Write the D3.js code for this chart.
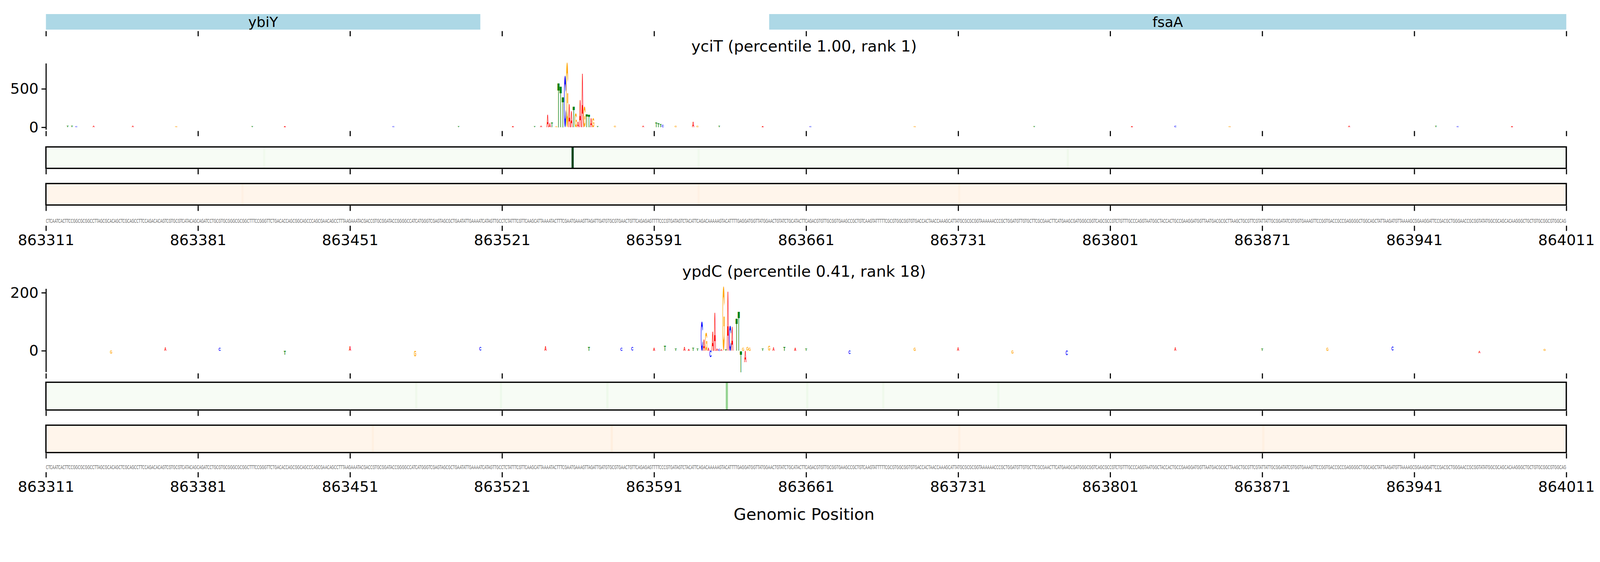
<!DOCTYPE html>
<html>
<head>
<meta charset="utf-8">
<script src="https://cdn.jsdelivr.net/npm/d3@7"></script>
<style>
  html, body { margin: 0; padding: 0; background: #fff; overflow: hidden; }
  svg { display: block; width: 100vw; height: calc(100vw / 3); }
  text { font-family: "DejaVu Sans", sans-serif; }
</style>
</head>
<body>
<svg id="chart" viewBox="0 0 4320 1440"></svg>
<script>
// data
var startPos = 863311
var endPos = 864011
var tickPositions = [863311, 863381, 863451, 863521, 863591, 863661, 863731, 863801, 863871, 863941, 864011]

var genes = [
  { name: 'ybiY', start: 863311, end: 863511 },
  { name: 'fsaA', start: 863644, end: 864011 }
]

var sequence = 'CTCAATCACTTCCGGCGCGGCCTTAGCGCACAGCTCGCAGCCTTCCAGACACAGTCGTGCGTCATACAGCAGATCCTGCGTGCGGGCGCGGCTTTCCGGGTTCTGACACCAGCGGCAGCCCAGCGAACAGCCTTTAAGAAATACGACCGTGCGGATACCGGGGCCATCATGGGTCGAGTAGCGCTGAATATTGAAAATCATAGTTGCCTCTATTTC' +
  'GTTCAAGCATTAAAATACTTTCGAATGAAAGTTAGATTGATGTGCGTGAACTGTTCAGAGAGTTTTCCCGTGATAGTCTACATTCAGACAAAAAGTACATTTTGAGGATGGTTATGGAACTGTATCTGCATACTTCAGACGTGTTGCGGTGAAGCCGCTGTCAAGTATTTTTCGCGTGGCGGTGTGACCACTAACCAAAGCATTATGCGCGCGGTAAAAAACCCGCTGGATGTTGTG' +
  'CTTCGCGAACTTCATGAAGCGATGGGCGGTCAGCGCCGTCTGTTTGCCCAGGTAATGGCTACCACTGCCGAAGGATGGTTAATGACGCGCTTAAGCTGCGTTCGTATTATTGCGGATATCGTGGTGAAAGTTCCGGTGACCGCCGAGGGGCTGGCAGCTATTAAGATGTTAAAAGCGGAAGGATTCCGACGCTGGGAACCGCGGTATATGGCGCAGCACAAGGGCTGCTGTGCGGCGTGGCAG'

// panel 1: yciT, offsets from startPos, base, attribution
var logo1Offset = [10, 12, 14, 22, 40, 60, 95, 110, 160, 190, 215, 225, 228, 231, 232, 233, 235, 236, 237, 238, 239, 240, 241, 242, 243, 244, 245, 246, 247, 248, 249, 250, 251, 252, 254, 262, 275, 281, 282, 283, 284, 290, 298, 300, 310, 330, 352, 400, 455, 500, 520, 545, 600, 640, 650, 675]
var logo1Base   = ['T', 'T', 'C', 'A', 'A', 'G', 'T', 'A', 'C', 'T', 'A', 'T', 'A', 'A', 'A', 'T', 'G', 'T', 'T', 'T', 'C', 'G', 'A', 'A', 'T', 'G', 'A', 'A', 'A', 'G', 'T', 'T', 'A', 'G', 'T', 'G', 'A', 'T', 'T', 'T', 'C', 'G', 'A', 'G', 'T', 'A', 'C', 'G', 'T', 'A', 'C', 'G', 'A', 'T', 'C', 'A']
var logo1Value  = [22, 18, 14, 16, 18, 12, 10, 12, 10, 14, 12, 10, 20, 165, 53, 58, 12, 582, 534, 397, 670, 843, 304, 213, 269, 181, 69, 353, 705, 264, 173, 162, 117, 117, 12, 16, 20, 58, 55, 40, 35, 18, 69, 22, 16, 14, 12, 10, 14, 12, 18, 10, 22, 16, 12, 10]

// panel 2: ypdC
var logo2Offset = [30, 55, 80, 110, 140, 170, 200, 230, 250, 265, 270, 280, 285, 290, 294, 296, 298, 300, 302, 303, 304, 305, 306, 307, 308, 309, 310, 311, 312, 313, 314, 315, 316, 318, 319, 320, 321, 322, 323, 324, 330, 333, 335, 340, 345, 350, 370, 400, 420, 445, 470, 520, 560, 590, 620, 660, 690]
var logo2Base   = ['G', 'A', 'C', 'T', 'A', 'G', 'C', 'A', 'T', 'C', 'C', 'A', 'T', 'T', 'A', 'A', 'T', 'T', 'C', 'A', 'G', 'A', 'C', 'A', 'A', 'A', 'C', 'A', 'G', 'T', 'A', 'C', 'A', 'T', 'T', 'T', 'G', 'A', 'G', 'G', 'T', 'G', 'A', 'T', 'A', 'T', 'C', 'G', 'A', 'G', 'C', 'A', 'T', 'G', 'C', 'A', 'G']
var logo2Value  = [-10, 12, 10, -14, 15, -20, 12, 16, 14, 10, 12, 10, 18, 8, 14, 6, 10, 8, 101, 40, 62, 11, -23, 66, 133, 8, 6, 5, 221, 5, 206, 87, 84, 112, 136, -74, 10, -40, 12, 10, 8, 16, 12, 13, 10, 8, -12, 10, 12, -10, -15, 12, 8, 10, 14, -8, 6]

// heatmap rows (only cells that stand out from the pale base)
var green1Offset = [242, 100, 300, 470]
var green1Value  = [1.0, 0.04, 0.04, 0.05]
var orange1Offset = [90, 300, 420]
var orange1Value  = [0.03, 0.03, 0.03]
var green2Offset = [313, 170, 209, 258, 350, 385, 438]
var green2Value  = [0.41, 0.05, 0.06, 0.06, 0.06, 0.05, 0.06]
var orange2Offset = [150, 260, 420, 560]
var orange2Value  = [0.04, 0.05, 0.04, 0.04]

var baseColor = { A: '#ff0000', C: '#0000ff', G: '#ffa500', T: '#008000' }

var svg = d3.select('#chart')
var x = d3.scaleLinear().domain([startPos, endPos]).range([124, 4229])
var bw = x(startPos + 1) - x(startPos)

function xTicks (y, withLabels) {
  var axis = d3.axisBottom(x).tickValues(tickPositions).tickSize(14).tickPadding(10)
    .tickFormat(withLabels ? d3.format('d') : '')
  var g = svg.append('g').attr('transform', 'translate(0,' + y + ')').call(axis)
  g.select('.domain').remove()
  g.selectAll('line').attr('stroke-width', 3)
  g.selectAll('text').attr('font-size', 40).attr('fill', '#000')
}

// gene track
svg.selectAll('rect.gene').data(genes).enter().append('rect')
  .attr('x', function (d) { return x(d.start) })
  .attr('width', function (d) { return x(d.end) - x(d.start) })
  .attr('y', 38).attr('height', 42).attr('fill', '#add8e6')
svg.selectAll('text.gene').data(genes).enter().append('text')
  .attr('x', function (d) { return (x(d.start) + x(d.end)) / 2 })
  .attr('y', 73).attr('text-anchor', 'middle').attr('font-size', 38)
  .text(function (d) { return d.name })
xTicks(84, false)

// ink bounds of the logo glyphs
var ctx = document.createElement('canvas').getContext('2d')
ctx.font = 'bold 100px "Liberation Sans", sans-serif'
var glyph = {}
;['A', 'C', 'G', 'T'].forEach(function (b) {
  var m = ctx.measureText(b)
  glyph[b] = {
    left: m.actualBoundingBoxLeft,
    width: m.actualBoundingBoxLeft + m.actualBoundingBoxRight,
    ascent: m.actualBoundingBoxAscent,
    height: m.actualBoundingBoxAscent + m.actualBoundingBoxDescent
  }
})

function drawPanel (opt) {
  var y = d3.scaleLinear().domain(opt.domain).range([opt.bottom, opt.top])
  svg.append('text').attr('x', 2171).attr('y', opt.top - 32).attr('text-anchor', 'middle')
    .attr('font-size', 42).text(opt.title)

  var data = opt.offset.map(function (o, i) {
    return { pos: startPos + o, base: opt.base[i], v: opt.value[i] }
  })
  var g = svg.append('g')
  g.selectAll('text').data(data).enter().append('text')
    .attr('font-size', 100).attr('font-weight', 'bold')
    .style('font-family', '"Liberation Sans", sans-serif')
    .attr('fill', function (d) { return baseColor[d.base] })
    .text(function (d) { return d.base })
    .attr('transform', function (d) {
      var b = glyph[d.base]
      var h = Math.abs(y(d.v) - y(0))
      var sx = (bw * 0.95) / b.width
      var sy = h / b.height
      var top = d.v >= 0 ? y(d.v) : y(0)
      return 'translate(' + (x(d.pos) - bw * 0.475) + ',' + top + ') scale(' + sx + ',' + sy + ') translate(' + b.left + ',' + b.ascent + ')'
    })

  var ya = svg.append('g').attr('transform', 'translate(124,0)')
    .call(d3.axisLeft(y).tickValues(opt.yTicks).tickSize(12).tickPadding(8).tickSizeOuter(0))
  ya.select('.domain').attr('stroke-width', 3)
  ya.selectAll('line').attr('stroke-width', 3)
  ya.selectAll('text').attr('font-size', 40).attr('fill', '#000')
  xTicks(opt.bottom + 4, false)

  heatRow(opt.greenTop, opt.greenOffset, opt.greenValue, d3.interpolateGreens)
  heatRow(opt.orangeTop, opt.orangeOffset, opt.orangeValue, d3.interpolateOranges)

  // sequence squeezed into the axis width
  var seq = svg.append('text').attr('font-size', 15).attr('fill', '#666').text(sequence)
  var natural = seq.node().getComputedTextLength()
  seq.attr('transform', 'translate(' + x(startPos) + ',' + opt.seqY + ') scale(' + ((x(endPos) - x(startPos)) / natural) + ',1)')
  xTicks(opt.seqY + 8, true)
}

function heatRow (top, offs, vals, interp) {
  var h = top.h
  svg.append('rect').attr('x', x(startPos)).attr('y', top.y)
    .attr('width', x(endPos) - x(startPos)).attr('height', h).attr('fill', interp(0))
  svg.append('g').selectAll('rect').data(offs).enter().append('rect')
    .attr('x', function (o) { return x(startPos + o) })
    .attr('width', bw).attr('y', top.y).attr('height', h)
    .attr('fill', function (o, i) { return interp(vals[i]) })
  svg.append('rect').attr('x', x(startPos)).attr('y', top.y)
    .attr('width', x(endPos) - x(startPos)).attr('height', h)
    .attr('fill', 'none').attr('stroke', '#000').attr('stroke-width', 3.5)
  xTicks(top.y + h + 2, false)
}

drawPanel({
  title: 'yciT (percentile 1.00, rank 1)', top: 171, bottom: 350, domain: [-29, 832], yTicks: [0, 500],
  offset: logo1Offset, base: logo1Base, value: logo1Value,
  greenTop: { y: 397, h: 58 }, greenOffset: green1Offset, greenValue: green1Value,
  orangeTop: { y: 496, h: 58 }, orangeOffset: orange1Offset, orangeValue: orange1Value,
  seqY: 602
})
drawPanel({
  title: 'ypdC (percentile 0.41, rank 18)', top: 780, bottom: 1005, domain: [-73, 214], yTicks: [0, 200],
  offset: logo2Offset, base: logo2Base, value: logo2Value,
  greenTop: { y: 1033, h: 75 }, greenOffset: green2Offset, greenValue: green2Value,
  orangeTop: { y: 1149, h: 74 }, orangeOffset: orange2Offset, orangeValue: orange2Value,
  seqY: 1268
})

svg.append('text').attr('x', 2171).attr('y', 1405).attr('text-anchor', 'middle')
  .attr('font-size', 44).text('Genomic Position')
</script>
</body>
</html>
